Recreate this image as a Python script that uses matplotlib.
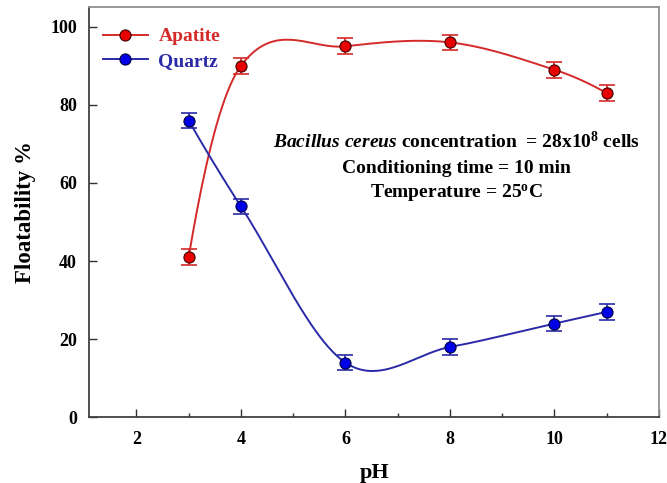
"""Floatability of apatite and quartz vs pH (Bacillus cereus)."""

import matplotlib

matplotlib.use("Agg")
import matplotlib.pyplot as plt
import numpy as np
from matplotlib.font_manager import FontProperties
from matplotlib.ticker import MultipleLocator

ph = [3, 4, 6, 8, 10, 11]
apatite = [41, 90, 95, 96, 89, 83]
apatite_err = [2, 2, 2, 2, 2, 2]
quartz = [76, 54, 14, 18, 24, 27]
quartz_err = [2, 2, 2, 2, 2, 2]

RED = "#d42a2a"
BLUE = "#2a2aa8"

plt.rcParams["font.family"] = ["Liberation Serif", "DejaVu Serif"]
plt.rcParams["font.weight"] = "bold"
plt.rcParams["mathtext.fontset"] = "custom"
plt.rcParams["mathtext.rm"] = "Liberation Serif:bold"
plt.rcParams["mathtext.it"] = "Liberation Serif:italic:bold"
plt.rcParams["mathtext.bf"] = "Liberation Serif:bold"


def smooth_curve(x, y, n=300):
    """Cardinal (Catmull-Rom) Hermite curve through the points."""
    x = np.asarray(x, float)
    y = np.asarray(y, float)
    k = len(x)
    m = np.zeros(k)
    m[1:-1] = (y[2:] - y[:-2]) / (x[2:] - x[:-2])
    m[0] = 2 * (y[1] - y[0]) / (x[1] - x[0]) - m[1]
    m[-1] = 2 * (y[-1] - y[-2]) / (x[-1] - x[-2]) - m[-2]
    xs = np.linspace(x[0], x[-1], n)
    idx = np.clip(np.searchsorted(x, xs) - 1, 0, k - 2)
    h = x[idx + 1] - x[idx]
    t = (xs - x[idx]) / h
    h00 = 2 * t**3 - 3 * t**2 + 1
    h10 = t**3 - 2 * t**2 + t
    h01 = -2 * t**3 + 3 * t**2
    h11 = t**3 - t**2
    ys = h00 * y[idx] + h10 * h * m[idx] + h01 * y[idx + 1] + h11 * h * m[idx + 1]
    return xs, ys


fig = plt.figure(figsize=(6.67, 4.83), dpi=100)
ax = fig.add_axes([0.134, 0.136, 0.854, 0.849])

for vals, err, col, face, edge, lbl in [
    (apatite, apatite_err, RED, "#e60000", "#400000", "Apatite"),
    (quartz, quartz_err, BLUE, "#0000e6", "#000040", "Quartz"),
]:
    xs, ys = smooth_curve(ph, vals)
    ax.plot(xs, ys, color=col, linewidth=1.4, zorder=2)
    ax.errorbar(ph, vals, yerr=err, fmt="none", ecolor=col, elinewidth=1.2,
                capsize=5.5, capthick=1.2, zorder=3)
    ax.plot(ph, vals, "o", markerfacecolor=face, markeredgecolor=edge,
            markersize=8, markeredgewidth=0.8, zorder=4)
    ax.plot([], [], "-o", color=col, markerfacecolor=face, markeredgecolor=edge,
            markersize=8, markeredgewidth=0.8, linewidth=1.4, label=lbl)

leg_font = FontProperties(family="Liberation Serif", weight="bold", size=14)
leg = ax.legend(loc="upper left", bbox_to_anchor=(0.024, 0.95), frameon=False,
                handlelength=2.3, prop=leg_font, borderaxespad=0, borderpad=0,
                handletextpad=0.55, labelspacing=0.35)
for txt, col in zip(leg.get_texts(), [RED, BLUE]):
    txt.set_color(col)

ann_x = 0.645
ax.text(ann_x, 0.672, r"$\it{Bacillus\ cereus}$ concentration  = 28x10$^{8}$ cells",
        transform=ax.transAxes, ha="center", va="center", fontsize=14, fontweight="bold")
ax.text(ann_x, 0.607, "Conditioning time = 10 min", transform=ax.transAxes,
        ha="center", va="center", fontsize=14, fontweight="bold")
ax.text(ann_x, 0.546, r"Temperature = 25$^{\mathrm{o}}$C", transform=ax.transAxes,
        ha="center", va="center", fontsize=14, fontweight="bold")

ax.set_xlim(1.1, 12)
ax.set_ylim(0, 105)
ax.xaxis.set_major_locator(MultipleLocator(2))
ax.xaxis.set_minor_locator(MultipleLocator(1))
ax.yaxis.set_major_locator(MultipleLocator(20))
ax.tick_params(which="both", direction="in", labelsize=13, colors="#303030")
ax.tick_params(which="major", length=6, width=1)
ax.tick_params(which="minor", length=3, width=1)
ax.tick_params(axis="x", pad=10)
ax.tick_params(axis="y", pad=9)
for lab in ax.get_xticklabels() + ax.get_yticklabels():
    lab.set_fontweight("bold")
    lab.set_color("black")

ax.set_xlabel("pH", fontsize=16, fontweight="bold", labelpad=11)
ax.set_ylabel("Floatability %", fontsize=16.5, fontweight="bold", labelpad=10)

ax.spines["left"].set_color("#404040")
ax.spines["bottom"].set_color("#404040")
ax.spines["top"].set_color("#909090")
ax.spines["right"].set_color("#909090")
for sp in ax.spines.values():
    sp.set_linewidth(1.3)

fig.savefig("out.png", dpi=100)
